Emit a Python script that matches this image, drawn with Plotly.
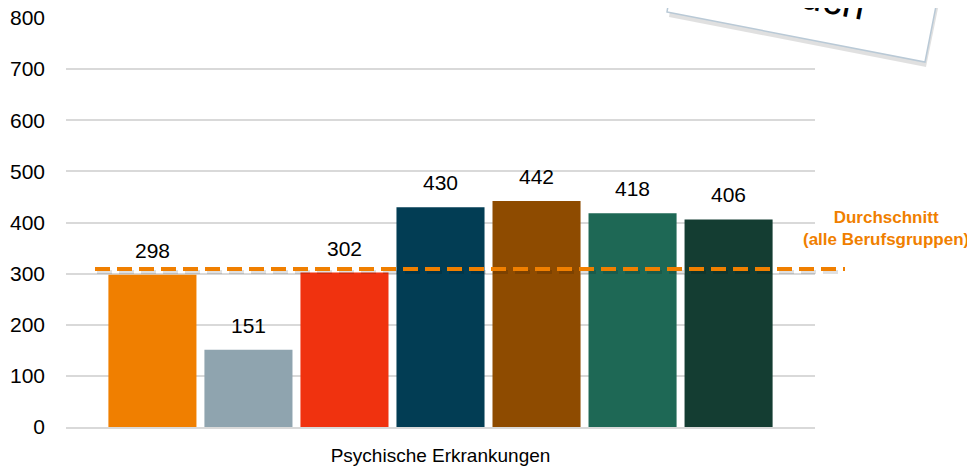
import plotly.graph_objects as go

category = "Psychische Erkrankungen"
values = [298, 151, 302, 430, 442, 418, 406]
colors = ["#F07F00", "#8FA4AF", "#F0320F", "#023D54", "#8E4B00", "#1E6855", "#143D32"]
average = 309
avg_label = "Durchschnitt<br>(alle Berufsgruppen)"
note_text = "auch"
y_ticks = [0, 100, 200, 300, 400, 500, 600, 700, 800]

# page offset (browser body margin) compensation
OFF = 8
W, H = 975 - OFF, 469 - OFF
L, R, T, B = 66 - OFF, 160, 18 - OFF, 42
pw, ph = W - L - R, H - T - B

def px(x):
    # reference-page x pixel -> paper fraction
    return (x - 66) / pw

def py(y):
    # reference-page y pixel -> paper fraction
    return (427 - y) / ph

units_per_px = 800 / ph
FONT = "Liberation Sans, Arial, sans-serif"

xs = list(range(len(values)))
fig = go.Figure()
fig.add_trace(go.Bar(x=xs, y=values, marker=dict(color=colors, line=dict(width=0)),
                     width=0.917, showlegend=False, hoverinfo="skip"))

for x, v in zip(xs, values):
    fig.add_annotation(x=x, y=v, text=str(v), showarrow=False, yanchor="bottom",
                       yshift=11, font=dict(family=FONT, size=21, color="#000000"))

# average line shadow + line
fig.add_shape(type="line", xref="paper", yref="y", x0=px(97), x1=px(845),
              y0=average - 3 * units_per_px, y1=average - 3 * units_per_px,
              line=dict(color="rgba(0,0,0,0.12)", width=4, dash="15px,7px"), layer="above")
fig.add_shape(type="line", xref="paper", yref="y", x0=px(95), x1=px(845),
              y0=average, y1=average,
              line=dict(color="#F07F00", width=4, dash="15px,7px"), layer="above")

fig.add_annotation(xref="paper", yref="paper", x=px(886), y=py(228), text=avg_label,
                   showarrow=False, align="center", xanchor="center", yanchor="middle",
                   font=dict(family=FONT, size=17, color="#F07F00", weight="bold"))

# sticky note
def poly(pts):
    return "M " + " L ".join(f"{px(a):.5f},{py(b):.5f}" for a, b in pts) + " Z"

fig.add_shape(type="path", xref="paper", yref="paper",
              path=poly([(669, 17), (926, 67), (950, -50), (680, -50)]),
              fillcolor="rgba(0,0,0,0.12)", line=dict(width=0))
fig.add_shape(type="path", xref="paper", yref="paper",
              path=poly([(667, 12), (925, 62), (948, -55), (678, -55)]),
              fillcolor="#FFFFFF", line=dict(color="#B9C9D6", width=1.5))
fig.add_annotation(xref="paper", yref="paper", x=px(823), y=py(-2), text=note_text,
                   showarrow=False, textangle=11, xanchor="center", yanchor="middle",
                   font=dict(family=FONT, size=40, color="#000000"))

fig.update_layout(
    width=W, height=H,
    margin=dict(l=L, r=R, t=T, b=B, autoexpand=False),
    paper_bgcolor="white", plot_bgcolor="white",
    xaxis=dict(range=[-0.9, 6.9], tickvals=[3], ticktext=[category], showgrid=False,
               showline=True, linecolor="#D9D9D9", linewidth=2, zeroline=False,
               ticks="", ticklabelstandoff=10,
               tickfont=dict(family=FONT, size=19, color="#000")),
    yaxis=dict(range=[0, 800], tickvals=y_ticks, showgrid=True, gridcolor="#D9D9D9", gridwidth=2,
               zeroline=False, showline=False, ticks="", ticklabelstandoff=20,
               ticklabeloverflow="allow",
               tickfont=dict(family=FONT, size=21, color="#000")),
)

fig.write_html("out.html")
